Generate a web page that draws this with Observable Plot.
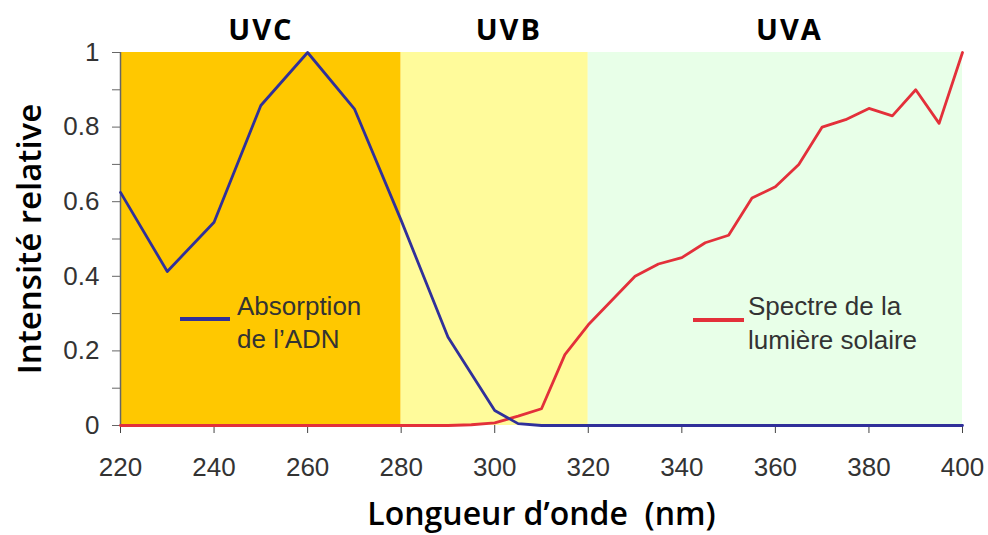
<!DOCTYPE html>
<html><head><meta charset="utf-8">
<script src="https://cdn.jsdelivr.net/npm/d3@7"></script>
<script src="https://cdn.jsdelivr.net/npm/@observablehq/plot@0.6"></script>
<style>
body{margin:0;background:#fff}
#wrap{position:relative;width:988px;height:535px}
.leg{position:absolute;font-family:"Liberation Sans",Arial,sans-serif;font-size:26px;line-height:30px;color:#333;white-space:nowrap}
.sw{position:absolute;height:3.5px}
</style></head><body><div id="wrap"></div>
<script>
// Bands
const bandNames = ["UVC", "UVB", "UVA"];
const bandStart = [220, 280, 320];
const bandEnd = [280, 320, 400];
const bandColors = ["#FFC800", "#FFFB9B", "#E8FFE8"];
const bandLabelAt = [250, 303, 363];

// DNA absorption (blue)
const dnaNm = [220, 230, 240, 250, 260, 270, 280, 290, 300, 305, 310, 320, 340, 360, 380, 400];
const dnaAbs = [0.625, 0.413, 0.545, 0.858, 1.0, 0.849, 0.55, 0.237, 0.04, 0.005, 0, 0, 0, 0, 0, 0];

// Solar spectrum (red)
const solarNm = [220, 290, 295, 300, 305, 310, 315, 320, 325, 330, 335, 340, 345, 350, 355, 360, 365, 370, 375, 380, 385, 390, 395, 400];
const solarInt = [0, 0, 0.002, 0.007, 0.025, 0.045, 0.19, 0.27, 0.335, 0.40, 0.433, 0.45, 0.49, 0.51, 0.61, 0.64, 0.70, 0.80, 0.82, 0.85, 0.83, 0.90, 0.81, 1.0];

// Ticks
const xTicks = [220, 240, 260, 280, 300, 320, 340, 360, 380, 400];
const yTicks = [0, 0.2, 0.4, 0.6, 0.8, 1];
const yMinorTicks = [0.1, 0.3, 0.5, 0.7, 0.9];

const titleX = "Longueur d\u2019onde  (nm)";
const titleY = "Intensité relative";
const legendLabels = [["Absorption", "de l\u2019ADN"], ["Spectre de la", "lumière solaire"]];
const lineColors = ["#30309A", "#E3303A"];

const bands = bandNames.map((n, i) => ({name: n, x1: bandStart[i], x2: bandEnd[i], color: bandColors[i], at: bandLabelAt[i]}));
const dna = dnaNm.map((x, i) => ({x, y: dnaAbs[i]}));
const solar = solarNm.map((x, i) => ({x, y: solarInt[i]}));

const titleFont = "'Open Sans', sans-serif";
const plot = Plot.plot({
  width: 988, height: 535,
  marginLeft: 120, marginRight: 26, marginTop: 52, marginBottom: 110,
  x: {domain: [220, 400]},
  y: {domain: [0, 1]},
  color: {type: "identity"},
  style: {fontFamily: "'Liberation Sans', Arial, sans-serif", fontSize: "26px", color: "#333", background: "#fff"},
  marks: [
    Plot.rect(bands, {x1: "x1", x2: "x2", y1: () => 0, y2: () => 1, fill: "color"}),
    Plot.axisY({ticks: yMinorTicks, tickFormat: () => "", tickSize: 8, stroke: "#666", label: null}),
    Plot.axisY({ticks: yTicks, tickFormat: d => String(d), tickSize: 8, tickPadding: 13, stroke: "#666", fill: "#333", label: null}),
    Plot.ruleX([220], {y1: 0, y2: 1, stroke: "#666", strokeWidth: 1.5}),
    Plot.axisX({ticks: xTicks, tickSize: 8, tickPadding: 24, stroke: "#444", fill: "#333", label: null}),
    Plot.line(solar, {x: "x", y: "y", stroke: lineColors[1], strokeWidth: 2.8}),
    Plot.line(dna, {x: "x", y: "y", stroke: lineColors[0], strokeWidth: 2.8}),
    Plot.text(bands, {x: "at", text: "name", frameAnchor: "top", lineAnchor: "middle", dy: -22, fontSize: 29, fontWeight: 700, fontFamily: titleFont, fill: "#000"}),
    Plot.text([titleY], {frameAnchor: "left", textAnchor: "middle", lineAnchor: "middle", dx: -90, rotate: -90, fontSize: 33, fontWeight: 600, fontFamily: titleFont, fill: "#000"}),
    Plot.text([titleX], {frameAnchor: "bottom", lineAnchor: "middle", dy: 89, fontSize: 32, fontWeight: 600, fontFamily: titleFont, fill: "#000"})
  ]
});
d3.select(plot).selectAll("text")
  .filter(function () { return bandNames.includes(this.textContent); })
  .attr("letter-spacing", "2px");
const wrap = document.getElementById("wrap");
wrap.appendChild(plot);

// In-chart legends (placed as in the original)
const legendBoxes = [
  {sw: [180, 317, 50], text: [237, 291], lh: 33},
  {sw: [693, 318, 51], text: [748, 291], lh: 34}
];
legendBoxes.forEach((b, i) => {
  const s = document.createElement("div");
  s.className = "sw";
  s.style.left = b.sw[0] + "px"; s.style.top = b.sw[1] + "px"; s.style.width = b.sw[2] + "px";
  s.style.background = lineColors[i];
  wrap.appendChild(s);
  legendLabels[i].forEach((t, j) => {
    const d = document.createElement("div");
    d.className = "leg";
    d.textContent = t;
    d.style.left = b.text[0] + "px";
    d.style.top = (b.text[1] + j * b.lh) + "px";
    wrap.appendChild(d);
  });
});
</script></body></html>
